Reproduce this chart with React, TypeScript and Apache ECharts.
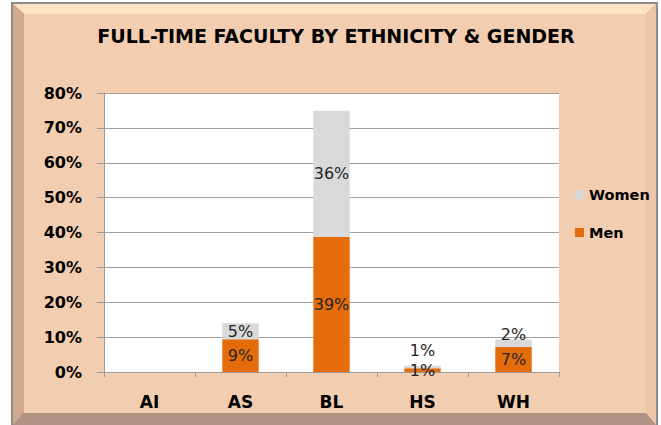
import React, { useEffect, useRef } from "react";
import * as echarts from "echarts";

const categories = ["AI", "AS", "BL", "HS", "WH"];
const menValues = [0, 9.4, 38.7, 1.1, 7.2];
const womenValues = [0, 4.6, 36.2, 0.7, 2.1];
const yTicks = [0, 10, 20, 30, 40, 50, 60, 70, 80];

const FONT = "'DejaVu Sans', sans-serif";
const MEN_COLOR = "#e46c0a";
const WOMEN_COLOR = "#d9d9d9";

// label placement tweaks for tiny stacked segments (style only)
const womenLabelOverride: Record<number, any> = {
  3: { position: "top", distance: 0, offset: [0, -7] },
  4: { position: "top", distance: 0, offset: [0, 3] },
};

export default function App() {
  const ref = useRef<HTMLDivElement>(null);
  useEffect(() => {
    if (!ref.current) return;
    const chart = echarts.init(ref.current, null, { renderer: "svg" });
    const labelBase = {
      show: true,
      position: "inside",
      fontFamily: FONT,
      fontSize: 16,
      color: "#262626",
      formatter: (p: any) => (p.value > 0 ? Math.round(p.value) + "%" : ""),
    };
    chart.setOption({
      animation: false,
      backgroundColor: "#ffffff",
      title: {
        text: "FULL-TIME FACULTY BY ETHNICITY & GENDER",
        left: 336,
        top: 26,
        padding: 0,
        textAlign: "center",
        textStyle: { fontFamily: FONT, fontWeight: "bold", fontSize: 19, color: "#000" },
      },
      graphic: {
        elements: [
          { type: "rect", z: -20, shape: { x: 11, y: 2, width: 647, height: 425 }, style: { fill: "#8c8c8c" } },
          { type: "polygon", z: -19, shape: { points: [[13, 4], [656, 4], [646, 14], [24, 14]] }, style: { fill: "#fde3c3" } },
          { type: "polygon", z: -19, shape: { points: [[13, 4], [24, 14], [24, 413], [13, 425]] }, style: { fill: "#d2a98d" } },
          { type: "polygon", z: -19, shape: { points: [[13, 425], [24, 413], [646, 413], [656, 425]] }, style: { fill: "#b09382" } },
          { type: "polygon", z: -19, shape: { points: [[656, 4], [646, 14], [646, 413], [656, 425]] }, style: { fill: "#eec6a7" } },
          { type: "rect", z: -18, shape: { x: 24, y: 14, width: 622, height: 399 }, style: { fill: "#f2cdb0" } },
        ],
      },
      legend: {
        data: ["Women", "Men"],
        orient: "vertical",
        left: 570,
        top: 181,
        padding: 5,
        itemWidth: 9,
        itemHeight: 9,
        itemGap: 21,
        icon: "rect",
        textStyle: { fontFamily: FONT, fontWeight: "bold", fontSize: 14.5, color: "#000", lineHeight: 17 },
      },
      grid: {
        left: 104,
        right: 102,
        top: 93,
        bottom: 53,
        show: true,
        backgroundColor: "#ffffff",
        borderWidth: 0,
      },
      xAxis: {
        type: "category",
        data: categories,
        boundaryGap: true,
        axisLine: { lineStyle: { color: "#9a9a9a", width: 1 } },
        axisTick: { show: true, length: 5, lineStyle: { color: "#9a9a9a" } },
        axisLabel: { fontFamily: FONT, fontWeight: "bold", fontSize: 17, color: "#000", margin: 21 },
      },
      yAxis: {
        type: "value",
        min: yTicks[0],
        max: yTicks[yTicks.length - 1],
        interval: 10,
        axisLine: { show: true, lineStyle: { color: "#9a9a9a" } },
        axisTick: { show: true, length: 7, lineStyle: { color: "#9a9a9a" } },
        splitLine: { lineStyle: { color: "#a0a0a0" } },
        axisLabel: {
          fontFamily: FONT,
          fontWeight: "bold",
          fontSize: 16,
          color: "#000",
          margin: 22,
          formatter: (v: number) => v + "%",
        },
      },
      series: [
        {
          name: "Men",
          type: "bar",
          stack: "total",
          barWidth: "40%",
          itemStyle: { color: MEN_COLOR },
          label: labelBase,
          data: menValues,
        },
        {
          name: "Women",
          type: "bar",
          stack: "total",
          barWidth: "40%",
          itemStyle: { color: WOMEN_COLOR },
          label: labelBase,
          data: womenValues.map((v, i) =>
            womenLabelOverride[i] ? { value: v, label: womenLabelOverride[i] } : v
          ),
        },
      ],
    });
    return () => chart.dispose();
  }, []);
  return (
    <div
      ref={ref}
      style={{ position: "absolute", left: 0, top: 0, width: 661, height: 425 }}
    />
  );
}
